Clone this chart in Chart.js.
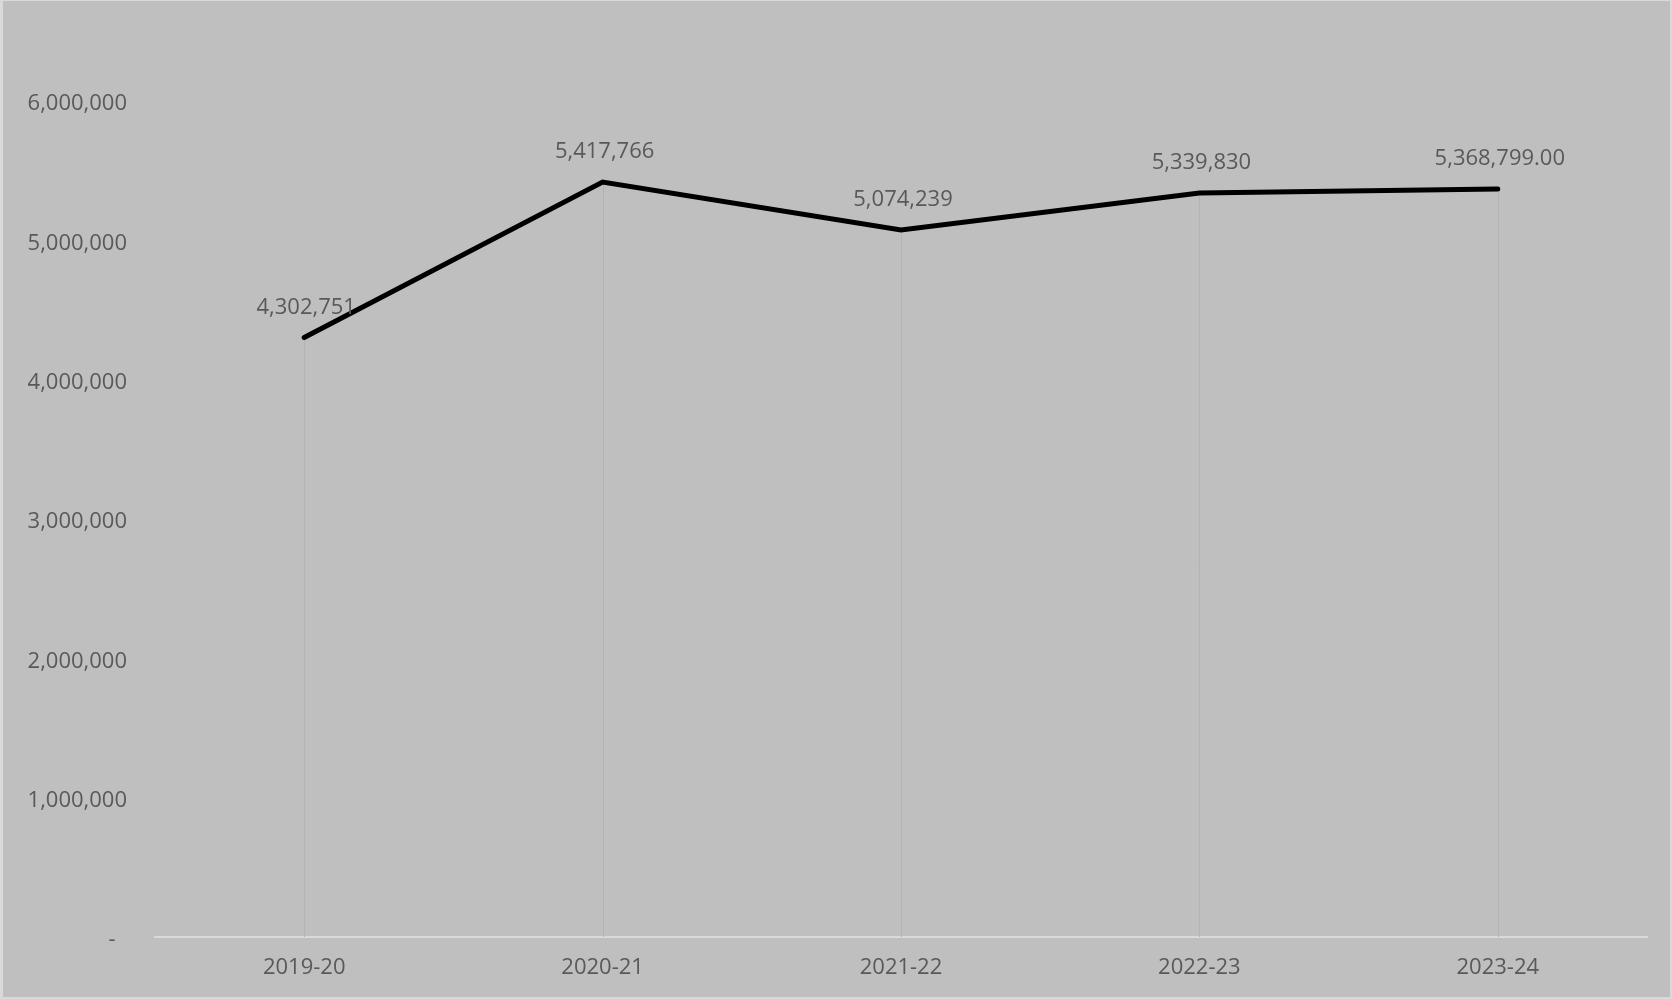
<!DOCTYPE html>
<html>
<head>
<meta charset="utf-8">
<title>Yearly totals</title>
<script src="https://cdn.jsdelivr.net/npm/chart.js@4"></script>
<style>
    body { margin: 0; background: #bfbfbf; }
    #chartBox { position: relative; width: 1672px; height: 999px; }
</style>
</head>
<body>
<div id="chartBox"><canvas id="chart"></canvas></div>
<script>
const years = ['2019-20', '2020-21', '2021-22', '2022-23', '2023-24'];
const totals = [4302751, 5417766, 5074239, 5339830, 5368799];
const labelDecimals = [0, 0, 0, 0, 2];
const yTicks = [0, 1000000, 2000000, 3000000, 4000000, 5000000, 6000000];

const textColor = '#595959';
const font = { family: '"Open Sans", "Liberation Sans", sans-serif', size: 22 };

// background and light frame round the picture
const frame = {
    id: 'frame',
    beforeDraw(chart) {
        const ctx = chart.ctx;
        ctx.save();
        ctx.fillStyle = '#bfbfbf';
        ctx.fillRect(0, 0, chart.width, chart.height);
        ctx.fillStyle = '#d9d9d9';
        ctx.fillRect(0, 0, 3, chart.height);
        ctx.fillRect(0, 0, chart.width, 1);
        ctx.fillRect(chart.width - 2, 0, 2, chart.height);
        ctx.fillRect(0, chart.height - 2, chart.width, 2);
        ctx.restore();
    }
};

// vertical drop lines from each point to the axis
const dropLines = {
    id: 'dropLines',
    beforeDatasetsDraw(chart) {
        const ctx = chart.ctx;
        const yScale = chart.scales.y;
        const base = yScale.getPixelForValue(0);
        ctx.save();
        ctx.strokeStyle = '#b3b3b3';
        ctx.lineWidth = 1;
        chart.getDatasetMeta(0).data.forEach(pt => {
            ctx.beginPath();
            ctx.moveTo(Math.round(pt.x) + 0.5, pt.y);
            ctx.lineTo(Math.round(pt.x) + 0.5, base);
            ctx.stroke();
        });
        ctx.restore();
    }
};

// value labels above each point
const valueLabels = {
    id: 'valueLabels',
    afterDatasetsDraw(chart) {
        const ctx = chart.ctx;
        ctx.save();
        ctx.font = font.size + 'px ' + font.family;
        ctx.fillStyle = textColor;
        ctx.textAlign = 'center';
        ctx.textBaseline = 'middle';
        chart.getDatasetMeta(0).data.forEach((pt, i) => {
            const txt = totals[i].toLocaleString('en-US', {
                minimumFractionDigits: labelDecimals[i],
                maximumFractionDigits: labelDecimals[i]
            });
            ctx.fillText(txt, pt.x + 2, pt.y - 30);
        });
        ctx.restore();
    }
};

new Chart(document.getElementById('chart'), {
    type: 'line',
    data: {
        labels: years,
        datasets: [{
            data: totals,
            borderColor: '#000000',
            borderWidth: 5,
            borderCapStyle: 'round',
            pointRadius: 0,
            tension: 0,
            fill: false
        }]
    },
    options: {
        responsive: true,
        maintainAspectRatio: false,
        animation: false,
        layout: { padding: { top: 101, right: 25, bottom: 0, left: 0 } },
        plugins: {
            legend: { display: false },
            tooltip: { enabled: false }
        },
        scales: {
            x: {
                offset: true,
                grid: { display: false, drawTicks: false },
                border: { display: true, color: '#d9d9d9', width: 2 },
                ticks: { color: textColor, font: font, padding: 18 },
                afterFit(scale) { scale.height = 62; }
            },
            y: {
                min: 0,
                max: 6000000,
                grid: { display: false, drawTicks: false },
                border: { display: false },
                afterBuildTicks(scale) {
                    scale.ticks = yTicks.map(v => ({ value: v }));
                },
                ticks: {
                    color: textColor,
                    font: font,
                    padding: 28,
                    labelOffset: 3,
                    callback: v => v === 0 ? '-  ' : v.toLocaleString('en-US')
                },
                afterFit(scale) { scale.width = 155; }
            }
        }
    },
    plugins: [frame, dropLines, valueLabels]
});
</script>
</body>
</html>
